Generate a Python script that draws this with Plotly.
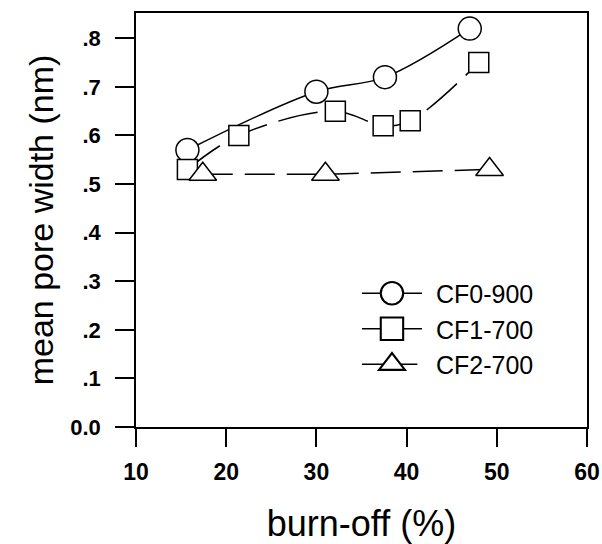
import plotly.graph_objects as go

cf0_x = [15.7, 30.0, 37.6, 47.0]
cf0_y = [0.57, 0.69, 0.72, 0.82]
cf1_x = [15.7, 21.4, 32.1, 37.4, 40.4, 48.0]
cf1_y = [0.53, 0.60, 0.65, 0.62, 0.63, 0.75]
cf2_x = [17.4, 31.0, 49.2]
cf2_y = [0.52, 0.52, 0.53]

x_ticks = [10, 20, 30, 40, 50, 60]
y_ticks = [0.0, 0.1, 0.2, 0.3, 0.4, 0.5, 0.6, 0.7, 0.8]
y_ticktext = ["0.0", ".1", ".2", ".3", ".4", ".5", ".6", ".7", ".8"]

FONT = "Liberation Sans, Arial, sans-serif"

fig = go.Figure()
def mk(sym, size):
    return dict(symbol=sym, color="white", size=size, line=dict(color="black", width=1.5))

fig.add_trace(go.Scatter(x=cf0_x, y=cf0_y, name="CF0-900", mode="lines+markers",
                         line=dict(color="black", width=1.5, shape="spline"),
                         marker=mk("circle", 23)))
fig.add_trace(go.Scatter(x=cf1_x, y=cf1_y, name="CF1-700", mode="lines+markers",
                         line=dict(color="black", width=1.5, shape="spline", dash="40px,12px"),
                         marker=mk("square", 20)))
fig.add_trace(go.Scatter(x=cf2_x, y=cf2_y, name="CF2-700", mode="lines+markers",
                         line=dict(color="black", width=1.5, dash="30px,12px"),
                         marker=mk("triangle-up", 24)))

fig.update_layout(
    width=602, height=544,
    margin=dict(l=136, r=15, t=13, b=117, autoexpand=False),
    plot_bgcolor="white", paper_bgcolor="white",
    font=dict(family=FONT, color="black"),
    showlegend=True,
    legend=dict(x=0.470, y=0.378, xanchor="left", yanchor="top",
                font=dict(size=25, family=FONT), bgcolor="rgba(0,0,0,0)", itemwidth=78,
                tracegroupgap=0),
)
fig.update_xaxes(range=[10, 60], tickvals=x_ticks, ticks="outside", ticklen=18,
                 tickwidth=1.5, tickcolor="black", showline=True, linecolor="black",
                 linewidth=1.5, mirror=True, showgrid=False, zeroline=False,
                 automargin=False,
                 tickfont=dict(size=23, family=FONT, weight="bold"),
                 ticklabelstandoff=6,
                 title=dict(text="burn-off (%)", font=dict(size=36, family=FONT), standoff=30))
fig.update_yaxes(range=[0, 0.852], tickvals=y_ticks, ticktext=y_ticktext, ticks="outside",
                 ticklen=19, tickwidth=1.5, tickcolor="black", showline=True,
                 linecolor="black", linewidth=1.5, mirror=True, showgrid=False,
                 zeroline=False, automargin=False,
                 tickfont=dict(size=22, family=FONT, weight="bold"),
                 ticklabelstandoff=10,
                 title=dict(text="mean pore width (nm)", font=dict(size=34, family=FONT), standoff=6))

post = """
document.body.style.margin='0';
var gd = document.getElementById('{plot_id}');
gd.querySelectorAll('g.legend g.traces').forEach(function(t){
  var mx = 20;
  t.querySelectorAll('path.scatterpts').forEach(function(p){
    var tr = p.getAttribute('transform') || '';
    var m = /translate\\(([-0-9.]+)/.exec(tr);
    if (m) { mx = parseFloat(m[1]); }
    p.setAttribute('transform','translate(' + mx + ',0) scale(1.4)');
  });
  t.querySelectorAll('g.legendlines path').forEach(function(p){
    var b = p.getBBox();
    if (b.width > 0) {
      var c = b.x + b.width / 2, s = 60 / b.width;
      p.setAttribute('transform','translate(' + mx + ',0) scale(' + s + ',1) translate(' + (-c) + ',0)');
    }
  });
});
"""

fig.write_html("out.html", post_script=post, config={"displayModeBar": False})
